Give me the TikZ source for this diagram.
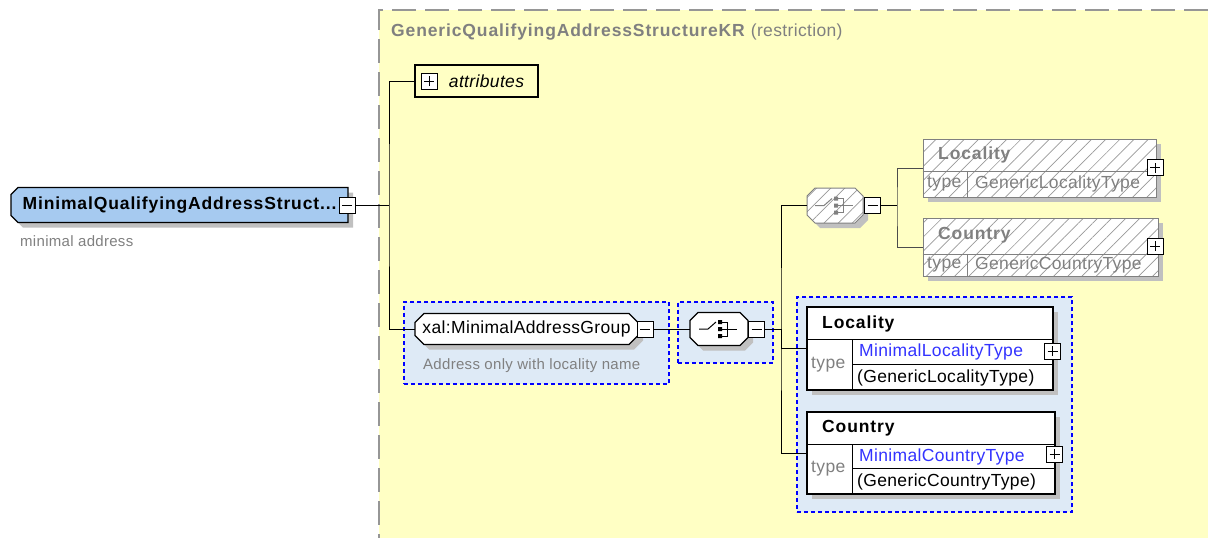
\documentclass[tikz,border=0pt]{standalone}
\usepackage{fontspec}
\setmainfont{Liberation Sans}[LetterSpace=2, BoldFeatures={LetterSpace=5}]
\usetikzlibrary{patterns.meta}

\definecolor{yellowbg}{RGB}{255,255,196}
\definecolor{regionline}{RGB}{150,150,150}
\definecolor{elemblue}{RGB}{166,202,240}
\definecolor{grpfill}{RGB}{222,234,246}
\definecolor{dashblue}{RGB}{0,0,255}
\definecolor{shadowgray}{RGB}{192,192,192}
\definecolor{typeblue}{RGB}{51,51,255}
\definecolor{textgray}{RGB}{128,128,128}

% #1 style, #2 cx, #3 cy, #4 half width, #5 half height, #6 left cut, #7 right cut
\newcommand{\octagon}[7]{%
  \fill[shadowgray, shift={(5,5)}] (#2-#4+#6,#3-#5) -- (#2+#4-#7,#3-#5) -- (#2+#4,#3-#5+#7) -- (#2+#4,#3+#5-#7)
    -- (#2+#4-#7,#3+#5) -- (#2-#4+#6,#3+#5) -- (#2-#4,#3+#5-#6) -- (#2-#4,#3-#5+#6) -- cycle;
  \draw[#1] (#2-#4+#6,#3-#5) -- (#2+#4-#7,#3-#5) -- (#2+#4,#3-#5+#7) -- (#2+#4,#3+#5-#7)
    -- (#2+#4-#7,#3+#5) -- (#2-#4+#6,#3+#5) -- (#2-#4,#3+#5-#6) -- (#2-#4,#3-#5+#6) -- cycle;
}
\newcommand{\compsym}[2]{%
  \draw[#2, line width=1pt, shift={(#1.center)}] (-20,0) -- (-11,0) -- (-3,-7);
  \fill[#2, shift={(#1.center)}] (-1,-9) rectangle (3,-5) (-1,-2) rectangle (3,2) (-1,5) rectangle (3,9);
  \draw[#2, line width=1pt, shift={(#1.center)}] (3,-7) -- (8,-7) -- (8,7) -- (3,7) (3,0) -- (18,0);
}

\tikzset{
  boxshadow/.style={preaction={fill=shadowgray, transform canvas={shift={(5pt,-5pt)}}}},
  elembox/.style={boxshadow, draw, line width=1.3pt, fill=white, inner sep=0pt},
  octline/.style={draw, line width=1.3pt, fill=white},
  hatchline/.style={draw=gray, line width=1pt, preaction={fill=white},
    pattern={Lines[angle=45,distance=10pt,line width=.7pt]}, pattern color=gray!80},
  hatchbox/.style={boxshadow, hatchline, inner sep=0pt},
  dashbox/.style={draw=dashblue, line width=1.3pt, dash pattern=on 4pt off 3pt, fill=grpfill, inner sep=0pt},
  collapse/.style={draw, line width=1pt, fill=white, minimum size=16pt, inner sep=0pt,
    path picture={\draw[line width=1pt] ([xshift=3pt]path picture bounding box.west) -- ([xshift=-3pt]path picture bounding box.east);}},
  expand/.style={draw, line width=1pt, fill=white, minimum size=16pt, inner sep=0pt,
    path picture={\draw[line width=1pt] ([xshift=3pt]path picture bounding box.west) -- ([xshift=-3pt]path picture bounding box.east)
      ([yshift=3pt]path picture bounding box.south) -- ([yshift=-3pt]path picture bounding box.north);}},
  lbl/.style={anchor=west, inner sep=0pt},
  desc/.style={lbl, text=textgray, font=\fontsize{15}{18}\selectfont},
  conn/.style={line width=1pt},
  rowline/.style={line width=.8pt}
}

\begin{document}
\begin{tikzpicture}[x=1pt, y=-1pt, font=\fontsize{17.5}{20}\selectfont]
  \useasboundingbox (0,0) rectangle (1208,538);

  \fill[yellowbg] (379,10) rectangle (1208,538);
  \draw[regionline, line width=1.5pt, dash pattern=on 24pt off 9pt] (1208,10) -- (379,10) -- (379,538);
  \node[lbl, text=textgray] (title) at (391,32) {\textbf{GenericQualifyingAddressStructureKR} (restriction)};

  \octagon{octline, fill=elemblue}{179.5}{205}{168.5}{17.5}{7}{0}
  \node[minimum width=337pt, minimum height=35pt, inner sep=0pt] (mqas) at (179.5,205) {\bfseries MinimalQualifyingAddressStruct...};
  \node[collapse] (mqasmin) at (347,205) {};
  \node[desc] (mqasdesc) at (20,241) {minimal address};

  \node[draw, line width=1.3pt, minimum width=123pt, minimum height=32pt, inner sep=0pt] (attr) at (476.5,81) {\hspace*{20pt}\itshape attributes};
  \node[expand] (attrplus) at (429,81) {};

  \node[dashbox, minimum width=265pt, minimum height=82pt] (grpbox) at (536.5,343) {};
  \octagon{octline}{526.5}{329}{111.5}{15.5}{9}{9}
  \node[minimum width=223pt, minimum height=31pt, inner sep=0pt] (grp) at (526.5,329) {xal:MinimalAddressGroup};
  \node[collapse] (grpmin) at (645,329) {};
  \node[desc] (grpdesc) at (423,366) {Address only with locality name};

  \node[dashbox, minimum width=95pt, minimum height=61pt] (seqbox) at (725.5,332.5) {};
  \octagon{octline}{719}{329}{29}{16.5}{8}{8}
  \node[minimum width=58pt, minimum height=33pt, inner sep=0pt] (seq) at (719,329) {};
  \compsym{seq}{black}
  \node[collapse] (seqmin) at (756.5,329) {};

  \octagon{hatchline}{835}{205.5}{28}{17.5}{8}{8}
  \node[minimum width=56pt, minimum height=35pt, inner sep=0pt] (chc) at (835,205.5) {};
  \compsym{chc}{gray}
  \node[collapse] (chcmin) at (872.5,205.5) {};

  \node[hatchbox, minimum width=233pt, minimum height=58pt] (hloc) at (1039.5,168) {};
  \draw[gray] ([yshift=-33pt]hloc.north west) -- ([yshift=-33pt]hloc.north east);
  \draw[gray] ([xshift=45pt,yshift=-33pt]hloc.north west) -- ([xshift=45pt]hloc.south west);
  \node[lbl, text=textgray] (hloctitle) at (938,155) {\bfseries Locality};
  \node[lbl, text=textgray] (hloctype) at (927,184) {type};
  \node[lbl, text=textgray] (hloctypename) at (975,184) {GenericLocalityType};
  \node[expand] (hlocplus) at (1155,167.5) {};

  \node[hatchbox, minimum width=235pt, minimum height=58pt] (hcty) at (1040.5,247) {};
  \draw[gray] ([yshift=-37pt]hcty.north west) -- ([yshift=-37pt]hcty.north east);
  \draw[gray] ([xshift=45pt,yshift=-37pt]hcty.north west) -- ([xshift=45pt]hcty.south west);
  \node[lbl, text=textgray] (hctytitle) at (938,235) {\bfseries Country};
  \node[lbl, text=textgray] (hctytype) at (927,265) {type};
  \node[lbl, text=textgray] (hctytypename) at (975,265) {GenericCountryType};
  \node[expand] (hctyplus) at (1155,246) {};

  \node[dashbox, minimum width=275pt, minimum height=215pt] (partbox) at (934.5,404.5) {};

  \node[elembox, minimum width=246pt, minimum height=83pt] (loc) at (930,348.5) {};
  \draw[rowline] ([yshift=-33pt]loc.north west) -- ([yshift=-33pt]loc.north east);
  \draw[rowline] ([xshift=46pt,yshift=-33pt]loc.north west) -- ([xshift=46pt]loc.south west);
  \draw[rowline] ([xshift=46pt,yshift=-58pt]loc.north west) -- ([yshift=-58pt]loc.north east);
  \node[lbl] (loctitle) at (822,324) {\bfseries Locality};
  \node[lbl, text=textgray] (loctype) at (811,365) {type};
  \node[lbl, text=typeblue] (loctypename) at (859,352) {MinimalLocalityType};
  \node[lbl] (locbase) at (857,378) {(GenericLocalityType)};
  \node[expand] (locplus) at (1052.5,351) {};

  \node[elembox, minimum width=248pt, minimum height=82pt] (cty) at (931,453) {};
  \draw[rowline] ([yshift=-33pt]cty.north west) -- ([yshift=-33pt]cty.north east);
  \draw[rowline] ([xshift=46pt,yshift=-33pt]cty.north west) -- ([xshift=46pt]cty.south west);
  \draw[rowline] ([xshift=46pt,yshift=-57pt]cty.north west) -- ([yshift=-57pt]cty.north east);
  \node[lbl] (ctytitle) at (822,428) {\bfseries Country};
  \node[lbl, text=textgray] (ctytype) at (811,469) {type};
  \node[lbl, text=typeblue] (ctytypename) at (859,457) {MinimalCountryType};
  \node[lbl] (ctybase) at (857,482) {(GenericCountryType)};
  \node[expand] (ctyplus) at (1054.5,454) {};

  \coordinate (trunka) at (389,205);
  \draw[conn] (mqasmin.east) -- (trunka);
  \draw[conn] (attr.west) -| (trunka) |- (grp.west);
  \draw[conn] (grpmin.east) -- (seq.west);
  \coordinate (trunkb) at (781,329);
  \draw[conn] (seqmin.east) -- (trunkb);
  \draw[conn] (chc.west) -| (trunkb) |- (cty.west);
  \draw[conn] (trunkb) |- (loc.west);
  \coordinate (trunkc) at (897,205.5);
  \draw[conn] (chcmin.east) -- (trunkc);
  \draw[conn, black!70] (hloc.west) -| (trunkc) |- (hcty.west);
\end{tikzpicture}
\end{document}
